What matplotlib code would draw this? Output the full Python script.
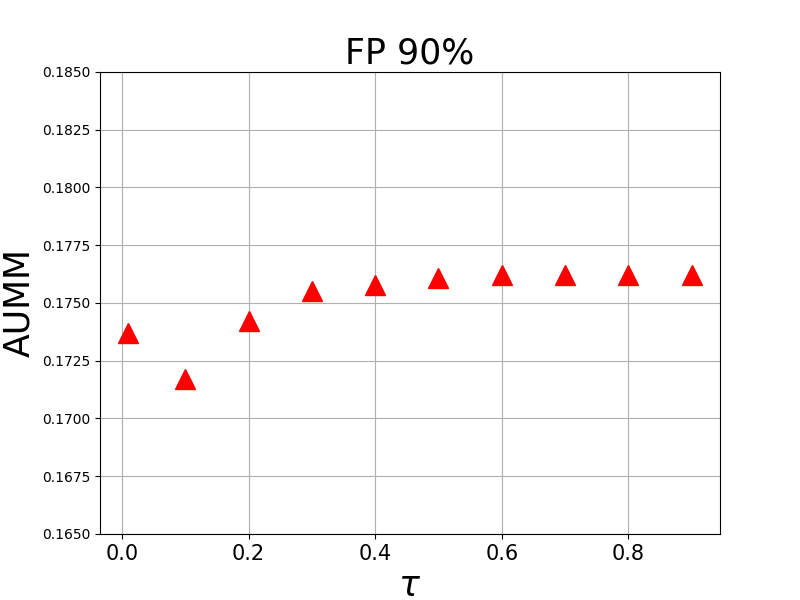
import matplotlib
matplotlib.use('Agg')
import matplotlib.pyplot as plt

# Data
tau = [0.01, 0.1, 0.2, 0.3, 0.4, 0.5, 0.6, 0.7, 0.8, 0.9]
aumm = [0.1737, 0.1717, 0.1742, 0.1755, 0.1758, 0.1761, 0.1762, 0.1762, 0.1762, 0.1762]

fig = plt.figure(figsize=(8, 6), dpi=100)
plt.plot(tau, aumm, 'r^', markersize=15)
plt.ylim(0.165, 0.185)
plt.title('FP 90%', fontsize=25)
plt.xlabel(r'$\tau$', fontsize=25)
plt.ylabel('AUMM', fontsize=25)
plt.xticks(fontsize=15)
plt.grid(True)
plt.savefig('out.png')
